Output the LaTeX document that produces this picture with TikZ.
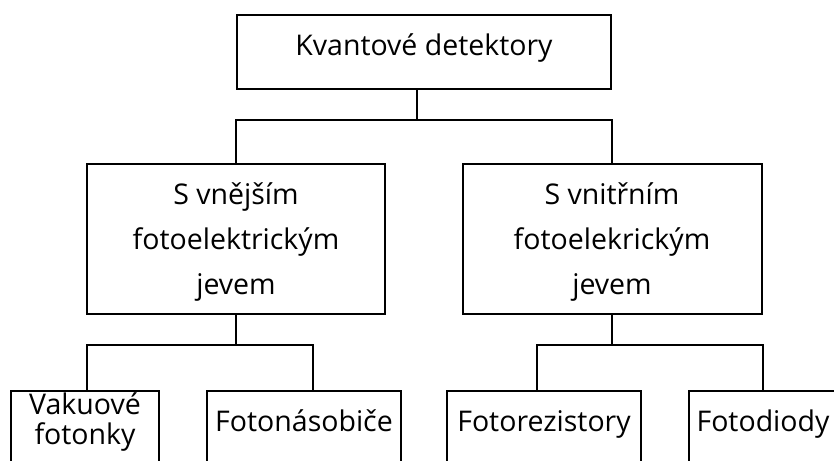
\documentclass[tikz,border=0pt]{standalone}
\usepackage{fontspec}
\setmainfont{Open Sans}
\usetikzlibrary{calc}

\begin{document}
\begin{tikzpicture}[x=1pt,y=-1pt,
        box/.style={draw, line width=2pt, align=center, inner xsep=4pt, font=\fontsize{28.5}{45}\selectfont},
        leaf/.style={box, anchor=north, inner ysep=10pt, text height=30pt, text depth=60pt, font=\fontsize{28.5}{30}\selectfont},
        link/.style={line width=2pt}]
        \useasboundingbox (0,0) rectangle (834,460);
        \clip (0,0) rectangle (834,460);

        % Top box
        \node[box, anchor=north, minimum width=374pt, inner ysep=10pt, text height=31pt, text depth=23pt] (kd) at (424,14) {Kvantov\'e detektory};

        % Second level
        \node[box, minimum width=298pt, minimum height=150pt, text depth=-4pt] (vnej) at (236,239) {S vnějším\\fotoelektrickým\\jevem};
        \node[box, minimum width=299pt, minimum height=150pt, text depth=-4pt] (vnit) at (612,239) {S vnitřním\\fotoelekrickým\\jevem};

        % Leaves (cut by the bottom edge)
        \node[leaf, minimum width=148pt, text height=43pt] (vak) at (85,390) {Vakuové\\fotonky};
        \node[leaf, minimum width=194pt] (nas) at (304,390) {Fotonásobiče};
        \node[leaf, minimum width=194pt] (rez) at (544,390) {Fotorezistory};
        \node[leaf, minimum width=148pt] (dio) at (763,390) {Fotodiody};

        % Bus lines
        \coordinate (b0) at (0,120);
        \coordinate (b1) at (0,345);

        \draw[link] ([xshift=-7pt]kd.south) -- ([xshift=-7pt]kd.south |- b0);
        \draw[link] (vnej.north) -- (vnej.north |- b0) -- (vnit.north |- b0) -- (vnit.north);

        \draw[link] (vnej.south) -- (vnej.south |- b1);
        \draw[link] ([xshift=2pt]vak.north) -- ([xshift=2pt]vak.north |- b1) -- ([xshift=9pt]nas.north |- b1) -- ([xshift=9pt]nas.north);

        \draw[link] (vnit.south) -- (vnit.south |- b1);
        \draw[link] ([xshift=-7pt]rez.north) -- ([xshift=-7pt]rez.north |- b1) -- (dio.north |- b1) -- (dio.north);
\end{tikzpicture}
\end{document}
